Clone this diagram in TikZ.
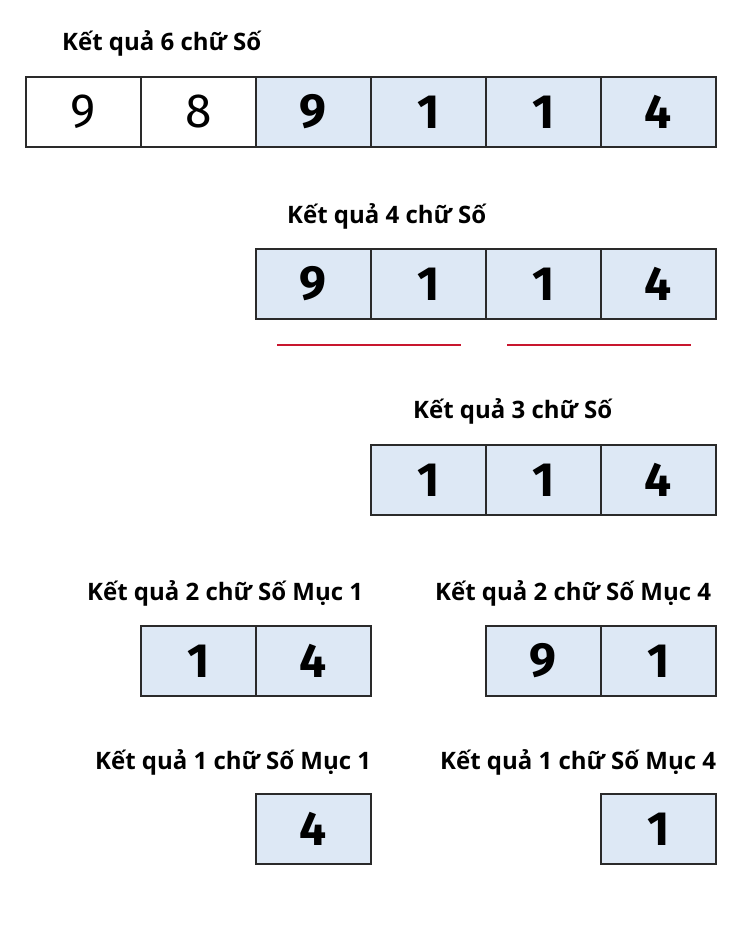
\documentclass[tikz,border=0pt]{standalone}
\usepackage{fontspec}
\setmainfont{Fira Sans}
\newfontfamily\lblfont{Open Sans}
\definecolor{cellblue}{HTML}{DDE8F5}
\definecolor{edge}{HTML}{2A2A2A}
\definecolor{redline}{HTML}{C8162E}
\begin{document}
\begin{tikzpicture}[x=1pt,y=-1pt,
  cell/.style={draw=edge,line width=1.7pt,minimum width=115pt,minimum height=70pt,inner sep=0pt,anchor=north west,font=\fontsize{48}{48}\selectfont\bfseries},
  bluecell/.style={cell,fill=cellblue},
  whitecell/.style={cell,fill=white,font=\fontsize{48}{48}\selectfont},
  lbl/.style={font=\lblfont\fontsize{24}{24}\selectfont\bfseries,inner sep=0pt,anchor=base west},
  redmark/.style={draw=redline,line width=2pt}]
\useasboundingbox (0,0) rectangle (750,947);
% row 1
\node[lbl] (l6) at (62,51) {Kết quả 6 chữ Số};
\node[whitecell] (a1) at (25,76) {9};
\node[whitecell] (a2) at (140,76) {8};
\node[bluecell] (a3) at (255,76) {9};
\node[bluecell] (a4) at (370,76) {1};
\node[bluecell] (a5) at (485,76) {1};
\node[bluecell] (a6) at (600,76) {4};
% row 2
\node[lbl] (l4) at (287,223) {Kết quả 4 chữ Số};
\node[bluecell] (b1) at (255,248) {9};
\node[bluecell] (b2) at (370,248) {1};
\node[bluecell] (b3) at (485,248) {1};
\node[bluecell] (b4) at (600,248) {4};
\coordinate (r1s) at (277,345);
\coordinate (r1e) at (461,345);
\coordinate (r2s) at (507,345);
\coordinate (r2e) at (691,345);
\draw[redmark] (r1s) -- (r1e);
\draw[redmark] (r2s) -- (r2e);
% row 3
\node[lbl] (l3) at (413,418) {Kết quả 3 chữ Số};
\node[bluecell] (c1) at (370,444) {1};
\node[bluecell] (c2) at (485,444) {1};
\node[bluecell] (c3) at (600,444) {4};
% row 4
\node[lbl] (l2a) at (87,600) {Kết quả 2 chữ Số Mục 1};
\node[lbl] (l2b) at (435,600) {Kết quả 2 chữ Số Mục 4};
\node[bluecell] (d1) at (140,625) {1};
\node[bluecell] (d2) at (255,625) {4};
\node[bluecell] (d3) at (485,625) {9};
\node[bluecell] (d4) at (600,625) {1};
% row 5
\node[lbl] (l1a) at (95,769) {Kết quả 1 chữ Số Mục 1};
\node[lbl] (l1b) at (440,769) {Kết quả 1 chữ Số Mục 4};
\node[bluecell] (e1) at (255,793) {4};
\node[bluecell] (e2) at (600,793) {1};
\end{tikzpicture}
\end{document}
